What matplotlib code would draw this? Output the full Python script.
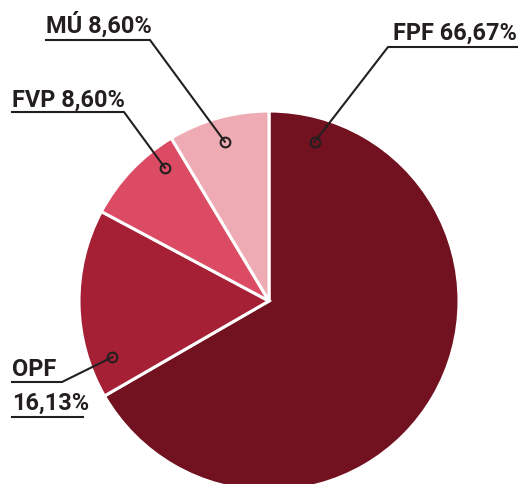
import matplotlib
matplotlib.use("Agg")
import numpy as np
import matplotlib.pyplot as plt
from matplotlib import font_manager

# ---- data ----
labels = ["FPF", "OPF", "FVP", "MÚ"]
values = [66.67, 16.13, 8.60, 8.60]
value_text = ["66,67%", "16,13%", "8,60%", "8,60%"]
colors = ["#721120", "#a51f35", "#db4c64", "#efabb3"]

# ---- layout (pixel space, y up) ----
W, H = 520, 485
cx, cy, R = 269, 183, 190
# marker anchor: (angle deg, fraction of radius) per slice
anchors = [(74, 0.87), (199.7, 0.875), (128, 0.89), (105.5, 0.87)]
ink = "#231f20"

fprop = font_manager.FontProperties(family=["Roboto", "DejaVu Sans"], weight="bold")

fig = plt.figure(figsize=(W / 100, H / 100), dpi=100)
ax = fig.add_axes([0, 0, 1, 1])

ax.pie(values, colors=colors, startangle=90, counterclock=False,
       center=(cx, cy), radius=R, frame=True,
       wedgeprops=dict(edgecolor="white", linewidth=2.2))
ax.set_xlim(0, W)
ax.set_ylim(0, H)
ax.set_aspect("equal")
ax.axis("off")

# fit font size so "FPF 66,67%" spans ~124 px
renderer = fig.canvas.get_renderer()
probe = ax.text(0, 0, "FPF 66,67%", fontproperties=fprop, fontsize=18)
w = probe.get_window_extent(renderer).width
probe.remove()
fs = min(20, 18 * 124 / w)

def txt(x, y, s):
    ax.text(x, y, s, ha="left", va="baseline", fontproperties=fprop,
            fontsize=fs, color=ink)

def anchor_xy(i):
    a, f = anchors[i]
    return cx + f * R * np.cos(np.radians(a)), cy + f * R * np.sin(np.radians(a))

def leader(i, xs, yline):
    mx, my = anchor_xy(i)
    ax.plot(xs + [mx], [yline] * len(xs) + [my], color=ink, lw=1.5, zorder=5)
    ax.plot([mx], [my], marker="o", ms=7, mfc="none", mec=ink, mew=1.5, zorder=6)

# FPF
leader(0, [517, 388], H - 48)
txt(393, H - 40, f"{labels[0]} {value_text[0]}")
# MÚ
leader(3, [46, 150], H - 41)
txt(46, H - 33, f"{labels[3]} {value_text[3]}")
# FVP
leader(2, [12, 124], H - 113)
txt(12, H - 107, f"{labels[2]} {value_text[2]}")
# OPF (two lines)
leader(1, [12, 62], H - 383)
ax.plot([12, 83], [H - 418, H - 418], color=ink, lw=1.5, zorder=5)
txt(12, H - 376, labels[1])
txt(12, H - 410, value_text[1])

fig.savefig("out.png", dpi=100)
